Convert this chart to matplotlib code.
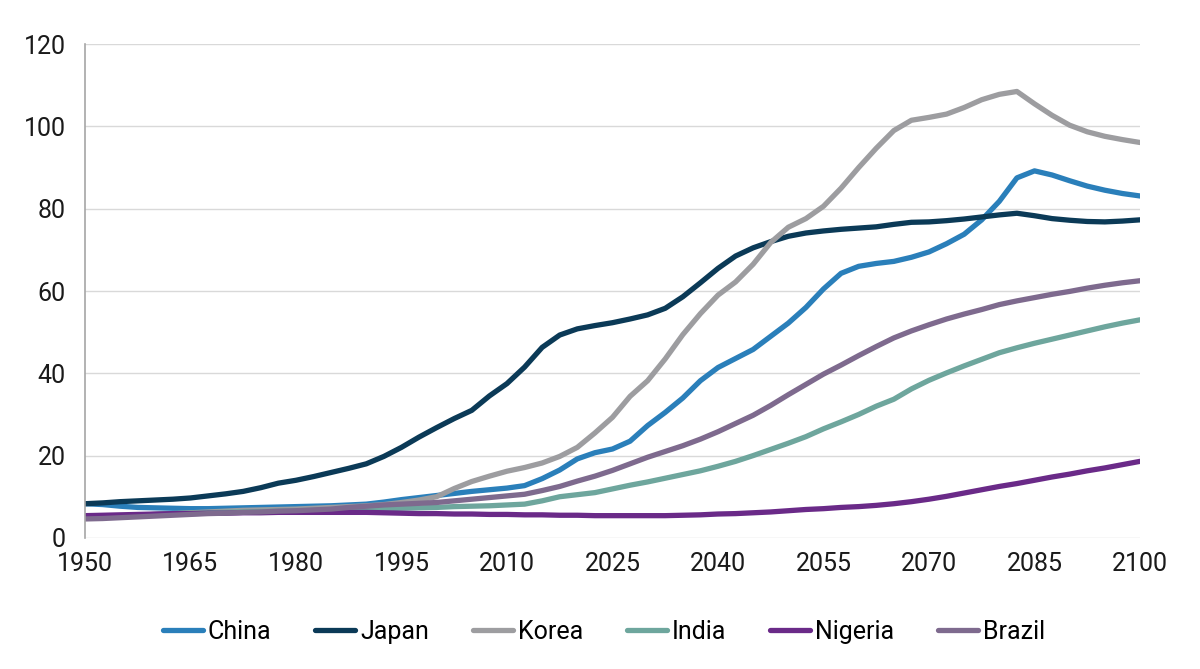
import matplotlib
matplotlib.use("Agg")
import matplotlib.pyplot as plt

years = [1950 + 2.5 * i for i in range(61)]

china = [8.3, 8.1, 7.7, 7.4, 7.3, 7.2, 7.1, 7.1, 7.2, 7.3, 7.4, 7.5, 7.6, 7.7, 7.8, 8.0,
         8.2, 8.7, 9.3, 9.8, 10.3, 10.8, 11.3, 11.7, 12.1, 12.7, 14.4, 16.5, 19.2, 20.7, 21.6,
         23.5, 27.3, 30.5, 34.0, 38.2, 41.4, 43.6, 45.8, 49.0, 52.2, 56.0, 60.5, 64.3, 66.0,
         66.7, 67.2, 68.2, 69.5, 71.5, 73.8, 77.3, 81.8, 87.5, 89.2, 88.2, 86.8, 85.5, 84.5,
         83.7, 83.1]
japan = [8.3, 8.5, 8.8, 9.0, 9.2, 9.4, 9.7, 10.2, 10.7, 11.3, 12.2, 13.3, 14.0, 14.9, 15.9,
         16.9, 18.0, 19.8, 22.0, 24.5, 26.8, 29.0, 31.0, 34.5, 37.5, 41.5, 46.3, 49.3, 50.8,
         51.6, 52.3, 53.2, 54.2, 55.8, 58.6, 62.0, 65.5, 68.5, 70.5, 72.0, 73.3, 74.1, 74.6,
         75.0, 75.3, 75.6, 76.2, 76.7, 76.8, 77.1, 77.5, 78.0, 78.5, 78.9, 78.3, 77.6, 77.2,
         76.9, 76.8, 77.0, 77.3]
korea = [5.0, 5.1, 5.3, 5.5, 5.7, 5.9, 6.1, 6.3, 6.5, 6.7, 6.8, 6.9, 7.0, 7.2, 7.4, 7.6,
         7.8, 8.1, 8.6, 9.2, 10.0, 12.0, 13.7, 15.0, 16.2, 17.1, 18.2, 19.8, 22.0, 25.5, 29.3,
         34.4, 38.2, 43.5, 49.4, 54.5, 59.0, 62.2, 66.5, 71.8, 75.5, 77.6, 80.6, 85.0, 90.0,
         94.7, 99.0, 101.5, 102.2, 103.0, 104.6, 106.5, 107.8, 108.5, 105.5, 102.7, 100.3,
         98.7, 97.6, 96.8, 96.1]
india = [5.0, 5.1, 5.3, 5.5, 5.7, 5.9, 6.0, 6.1, 6.2, 6.3, 6.4, 6.5, 6.6, 6.7, 6.8, 6.9,
         7.0, 7.1, 7.2, 7.3, 7.4, 7.6, 7.7, 7.8, 8.0, 8.2, 9.0, 10.0, 10.5, 11.0, 11.9, 12.8,
         13.6, 14.5, 15.4, 16.3, 17.4, 18.6, 20.0, 21.5, 23.0, 24.6, 26.5, 28.2, 30.0, 32.0,
         33.7, 36.2, 38.3, 40.1, 41.8, 43.4, 45.0, 46.2, 47.3, 48.3, 49.3, 50.3, 51.3, 52.2,
         53.0]
nigeria = [5.4, 5.5, 5.6, 5.7, 5.8, 5.9, 5.9, 6.0, 6.0, 6.1, 6.1, 6.2, 6.2, 6.2, 6.2, 6.2,
           6.2, 6.1, 6.0, 5.9, 5.9, 5.8, 5.8, 5.7, 5.7, 5.6, 5.6, 5.5, 5.5, 5.4, 5.4, 5.4,
           5.4, 5.4, 5.5, 5.6, 5.8, 5.9, 6.1, 6.3, 6.6, 6.9, 7.1, 7.4, 7.6, 7.9, 8.3, 8.8,
           9.4, 10.1, 10.9, 11.7, 12.5, 13.2, 14.0, 14.8, 15.5, 16.3, 17.0, 17.8, 18.6]
brazil = [4.6, 4.7, 4.9, 5.1, 5.3, 5.5, 5.7, 5.9, 6.0, 6.2, 6.3, 6.5, 6.6, 6.8, 7.0, 7.4,
          7.7, 8.0, 8.2, 8.4, 8.6, 9.0, 9.4, 9.8, 10.2, 10.6, 11.5, 12.5, 13.8, 15.0, 16.4,
          18.0, 19.6, 21.0, 22.4, 24.0, 25.8, 27.8, 29.8, 32.2, 34.8, 37.3, 39.8, 42.0, 44.3,
          46.5, 48.6, 50.3, 51.8, 53.2, 54.4, 55.5, 56.7, 57.6, 58.4, 59.2, 59.9, 60.7, 61.4,
          62.0, 62.5]

series = [
    ("China", china, "#2a7fba"),
    ("Japan", japan, "#0b3a57"),
    ("Korea", korea, "#9d9da0"),
    ("India", india, "#6ea69d"),
    ("Nigeria", nigeria, "#6a2a88"),
    ("Brazil", brazil, "#7e6a8e"),
]

x_ticks = list(range(1950, 2101, 15))
y_ticks = list(range(0, 121, 20))

plt.rcParams['font.family'] = ['Roboto', 'DejaVu Sans']

fig = plt.figure(figsize=(12, 6.69), dpi=100)
ax = fig.add_axes([0.0708, 0.196, 0.8792, 0.738])

for name, vals, col in series:
    ax.plot(years, vals, color=col, lw=3.8, label=name,
            solid_capstyle='round', solid_joinstyle='round')

ax.set_xlim(1950, 2100)
ax.set_ylim(0, 120)
ax.set_xticks(x_ticks)
ax.set_yticks(y_ticks)
ax.tick_params(axis='both', length=0, labelsize=18, colors='#1a1a1a')
ax.tick_params(axis='x', pad=10)
ax.tick_params(axis='y', pad=14)
ax.grid(axis='y', color='#d9d9d9', lw=1.0)
ax.set_axisbelow(True)
for s in ['top', 'right', 'bottom']:
    ax.spines[s].set_visible(False)
ax.spines['left'].set_color('#a6a6a6')
ax.spines['left'].set_linewidth(1.2)

leg = fig.legend(loc='center', bbox_to_anchor=(0.503, 0.055), ncol=6, frameon=False,
                 fontsize=18, handlelength=1.6, handletextpad=0.2, columnspacing=1.75)
for h in leg.get_lines():
    h.set_linewidth(3.8)
    h.set_solid_capstyle('round')

fig.savefig("out.png", dpi=100)
